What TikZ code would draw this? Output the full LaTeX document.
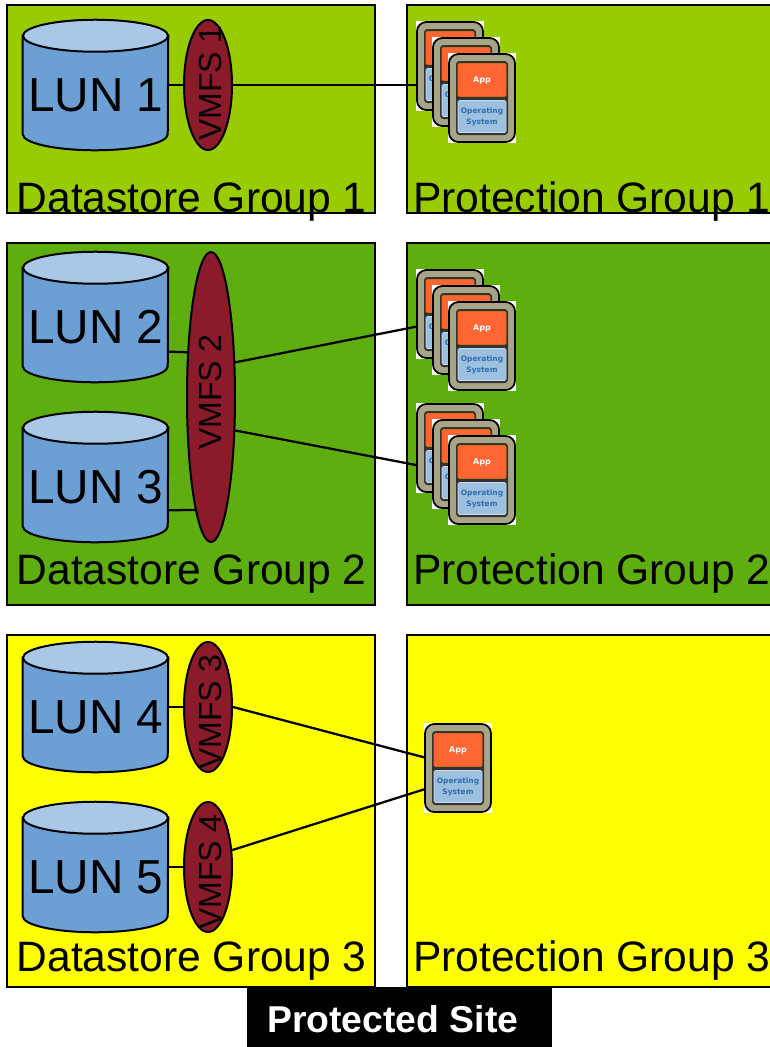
\documentclass[tikz,border=0pt]{standalone}
\usepackage{fontspec}
\setmainfont{Liberation Sans}
\newfontfamily\vmfont{DejaVu Sans}
\usetikzlibrary{shapes.geometric}
\definecolor{topgreen}{HTML}{99CC00}
\definecolor{midgreen}{HTML}{5FAE10}
\definecolor{topyellow}{HTML}{FFFF00}
\definecolor{lunbody}{HTML}{6C9FD3}
\definecolor{luntop}{HTML}{A9C8E8}
\definecolor{vmfsred}{HTML}{8B1A2B}
\definecolor{vmtan}{HTML}{A8A488}
\definecolor{vmdark}{HTML}{333333}
\definecolor{vmorange}{HTML}{FF6633}
\definecolor{vmblue}{HTML}{9CC0DE}
\definecolor{vmtext}{HTML}{2F6BAE}
\tikzstyle{groupbox} = [rectangle, draw=black, line width=1.5pt, inner sep=0pt]
\tikzstyle{grouplabel} = [anchor=base west, inner sep=0pt, font=\fontsize{31.9}{33}\selectfont]
\tikzstyle{lun} = [rectangle, minimum width=108.75pt, minimum height=97.5pt, inner sep=0pt]
\tikzstyle{lunedge} = [draw=black, line width=1.5pt]
\tikzstyle{lunlabel} = [anchor=base west, inner sep=0pt, font=\fontsize{35.8}{37}\selectfont]
\tikzstyle{vmfs} = [ellipse, draw=black, line width=1.5pt, fill=vmfsred, inner sep=0pt, minimum width=36pt]
\tikzstyle{vmfslabel} = [rotate=90, inner sep=0pt, font=\fontsize{24}{26}\selectfont]
\tikzstyle{vmframe} = [rectangle, rounded corners=7pt, draw=black, line width=1.3pt, fill=vmtan, minimum width=49.5pt, minimum height=66pt, inner sep=0pt]
\tikzstyle{vmback} = [rectangle, fill=white, minimum width=51pt, minimum height=67.5pt, inner sep=0pt]
\tikzstyle{vminner} = [rectangle, rounded corners=2.5pt, fill=vmdark, minimum width=39pt, minimum height=55.5pt, inner sep=0pt]
\tikzstyle{vmapp} = [rectangle, rounded corners=1pt, draw=orange!90!black, line width=.4pt, fill=vmorange, text=white, minimum width=36pt, minimum height=25pt, inner sep=0pt, font=\vmfont\fontsize{6}{7}\selectfont\bfseries]
\tikzstyle{vmos} = [rectangle, rounded corners=1pt, draw=vmblue!60!white, line width=.4pt, fill=vmblue, text=vmtext, minimum width=36pt, minimum height=24pt, align=center, inner sep=0pt, font=\vmfont\fontsize{5.6}{8.25}\selectfont\bfseries]
\tikzstyle{link} = [line width=1.7pt, draw=black]
% one LUN drum: name, centre x, centre y
\newcommand{\lundrum}[3]{
\node (#1) [lun] at (#2,#3) {};
\draw [lunedge, fill=lunbody] ([yshift=-12pt]#1.north west) -- ([yshift=12pt]#1.south west) arc (180:360:54.375pt and 12pt) -- ([yshift=-12pt]#1.north east) -- cycle;
\draw [lunedge, fill=luntop] ([yshift=-12pt]#1.north) ellipse (54.375pt and 12pt);
}
% one VM icon: name, centre x, centre y
\newcommand{\vmicon}[3]{
\node (#1back) [vmback] at (#2,#3) {};
\node (#1) [vmframe] at (#2,#3) {};
\node (#1inner) [vminner] at (#2,#3) {};
\node (#1app) [vmapp] at (#2,#3-18) {App};
\node (#1os) [vmos] at (#2,#3+18.5) {Operating\\System};
}
\begin{document}
\begin{tikzpicture}[x=0.75pt,y=-0.75pt]
\useasboundingbox (0,0) rectangle (769,1047);
% group boxes
\node (dsgone) [groupbox, fill=topgreen, minimum width=276pt, minimum height=156pt] at (191,109) {};
\node (pgone) [groupbox, fill=topgreen, minimum width=285pt, minimum height=156pt] at (597,109) {};
\node (dsgtwo) [groupbox, fill=midgreen, minimum width=276pt, minimum height=271.5pt] at (191,424) {};
\node (pgtwo) [groupbox, fill=midgreen, minimum width=285pt, minimum height=271.5pt] at (597,424) {};
\node (dsgthree) [groupbox, fill=topyellow, minimum width=276pt, minimum height=264pt] at (191,811) {};
\node (pgthree) [groupbox, fill=topyellow, minimum width=285pt, minimum height=264pt] at (597,811) {};
% LUNs
\lundrum{lunone}{95.5}{85}
\lundrum{luntwo}{95.5}{317}
\lundrum{lunthree}{95.5}{477}
\lundrum{lunfour}{95.5}{707}
\lundrum{lunfive}{95.5}{867}
\node (lunonetext) [lunlabel] at (28,111) {LUN 1};
\node (luntwotext) [lunlabel] at (28,343) {LUN 2};
\node (lunthreetext) [lunlabel] at (28,503) {LUN 3};
\node (lunfourtext) [lunlabel] at (28,733) {LUN 4};
\node (lunfivetext) [lunlabel] at (28,893) {LUN 5};
% datastores
\node (vmfsone) [vmfs, minimum height=97.5pt] at (208,85) {};
\node (vmfstwo) [vmfs, minimum height=217.5pt] at (211,397) {};
\node (vmfsthree) [vmfs, minimum height=97.5pt] at (208,707) {};
\node (vmfsfour) [vmfs, minimum height=97.5pt] at (208,867) {};
\node (vmfsonetext) [vmfslabel] at (210,83) {VMFS 1};
\node (vmfstwotext) [vmfslabel] at (210,392) {VMFS 2};
\node (vmfsthreetext) [vmfslabel] at (210,712) {VMFS 3};
\node (vmfsfourtext) [vmfslabel] at (210,872) {VMFS 4};
% links
\draw [link] (lunone.east) -- (vmfsone.west);
\draw [link] ([yshift=-26pt]luntwo.east) -- (vmfstwo.118);
\draw [link] ([yshift=-25pt]lunthree.east) -- (vmfstwo.262);
\draw [link] (lunfour.east) -- (vmfsthree.west);
\draw [link] (lunfive.east) -- (vmfsfour.west);
% VMs
\vmicon{vmonea}{450}{66}
\vmicon{vmoneb}{466}{82}
\vmicon{vmonec}{482}{98}
\vmicon{vmtwoa}{450}{314}
\vmicon{vmtwob}{466}{330}
\vmicon{vmtwoc}{482}{346}
\vmicon{vmthreea}{450}{448}
\vmicon{vmthreeb}{466}{464}
\vmicon{vmthreec}{482}{480}
\vmicon{vmfour}{458}{768}
\draw [link] (vmfsone.east) -- ([yshift=-14.25pt]vmonea.west);
\draw [link] (vmfstwo.55) -- ([yshift=-9.5pt]vmtwoa.west);
\draw [link] (vmfstwo.306) -- ([yshift=-12.75pt]vmthreea.west);
\draw [link] (vmfsthree.east) -- ([yshift=8pt]vmfour.west);
\draw [link] (vmfsfour.35) -- ([yshift=-16pt]vmfour.west);
% labels
\node (dsgonetext) [grouplabel] at (16.5,212) {Datastore Group 1};
\node (pgonetext) [grouplabel] at (413,212) {Protection Group 1};
\node (dsgtwotext) [grouplabel] at (16.5,584) {Datastore Group 2};
\node (pgtwotext) [grouplabel] at (413,584) {Protection Group 2};
\node (dsgthreetext) [grouplabel] at (16.5,971) {Datastore Group 3};
\node (pgthreetext) [grouplabel] at (413,971) {Protection Group 3};
\node (site) [rectangle, fill=black, minimum width=228.75pt, minimum height=45pt] at (399.5,1017) {};
\node (sitetext) [anchor=base west, inner sep=0pt, text=white, font=\fontsize{28}{30}\selectfont\bfseries] at (267,1032) {Protected Site};
\end{tikzpicture}
\end{document}
